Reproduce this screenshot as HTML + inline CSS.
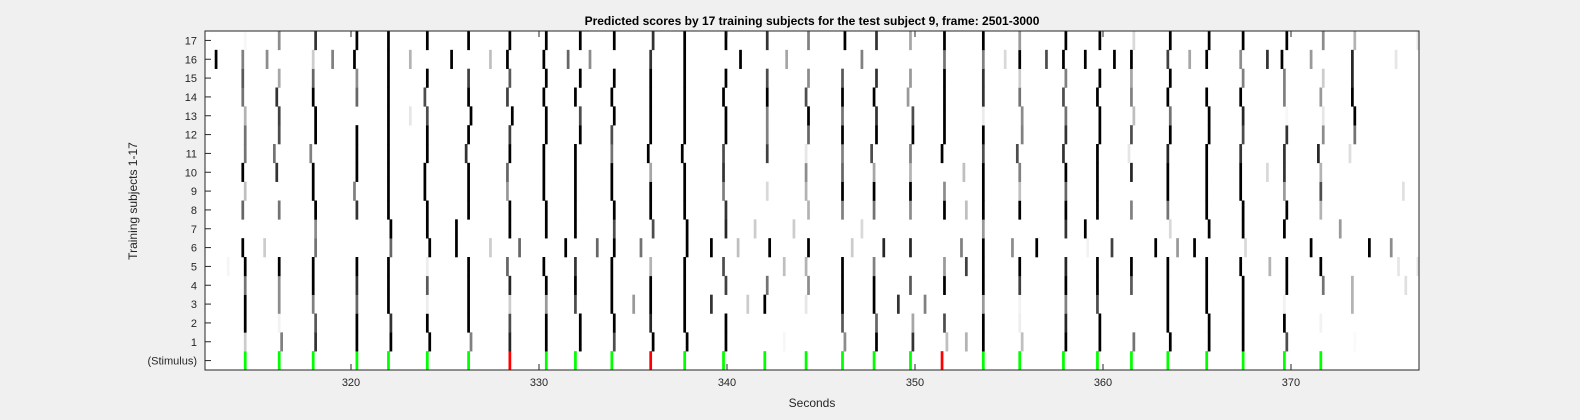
<!DOCTYPE html>
<html><head><meta charset="utf-8"><style>
html,body{margin:0;padding:0;background:#f0f0f0;}
svg{display:block;font-family:"Liberation Sans",sans-serif;}
</style></head><body>
<svg id="chart" width="1580" height="420"></svg>
<script>
// frames are indices 0..499 of frames 2501-3000
const frameStartSec = 312.234;
const frameSec = 0.12915;
const xTicks = [320, 330, 340, 350, 360, 370];
const rowLabels = ["(Stimulus)","1","2","3","4","5","6","7","8","9","10","11","12","13","14","15","16","17"];
const stimFrames = [16,30,44,62,75,91,108,125,140,152,167,183,197,213,230,247,262,275,290,303,320,335,353,367,381,396,412,427,444,459];
const stimRed = [125,183,303];
// each row: [frame, gray(0=black,1=white)]
const row1 = [[16,.8],[31,.5],[45,.2],[62,0],[76,0],[92,0],[109,.5],[125,.15],[140,0],[154,0],[168,.3],[184,0],[198,0],[214,0],[238,.97],[263,.55],[276,0],[291,.2],[305,.75],[313,.7],[320,0],[336,.75],[354,0],[368,0],[382,.45],[397,0],[413,0],[427,0],[445,.3],[473,.98]];
const row2 = [[16,0],[30,.95],[45,.35],[62,0],[76,.2],[91,0],[108,0],[125,.3],[140,0],[154,0],[168,0],[183,.15],[197,0],[214,0],[262,.35],[276,.4],[291,.65],[304,.3],[320,0],[335,.93],[354,.15],[368,0],[396,0],[413,0],[427,0],[444,0],[459,.95]];
const row3 = [[16,0],[30,.55],[44,.5],[62,.4],[75,0],[91,.93],[108,0],[125,.8],[140,.6],[152,.3],[167,0],[176,.6],[183,0],[197,0],[208,.2],[223,.8],[230,0],[247,.9],[262,0],[275,0],[285,.2],[296,.5],[320,.6],[335,.95],[354,.5],[367,.3],[396,0],[412,0],[427,0],[444,.95],[472,.7]];
const row4 = [[16,.45],[30,.55],[44,0],[62,.2],[75,0],[91,.35],[108,0],[125,.15],[140,0],[152,0],[167,0],[183,0],[197,0],[214,.25],[231,.45],[248,.55],[262,0],[275,0],[290,.35],[304,0],[320,0],[335,.25],[354,0],[367,0],[381,.35],[396,0],[412,0],[427,0],[445,0],[460,.45],[472,.7],[494,.88]];
const row5 = [[9,.96],[16,0],[30,0],[44,0],[62,0],[75,0],[91,.93],[108,0],[124,.4],[139,0],[152,.2],[167,0],[183,.7],[197,0],[213,.3],[238,.75],[247,.7],[262,0],[275,.5],[304,.6],[313,.25],[320,0],[335,0],[354,.15],[367,0],[381,0],[396,0],[412,0],[426,0],[438,.7],[445,0],[459,0],[491,.9],[499,.9]];
const row6 = [[15,0],[24,.8],[45,.45],[76,.4],[92,0],[103,0],[117,.8],[129,.4],[148,0],[161,.4],[168,0],[179,.45],[198,0],[208,0],[219,.75],[232,0],[248,0],[266,.8],[279,.15],[290,.15],[311,.5],[320,0],[332,.55],[342,0],[363,.95],[373,.25],[391,0],[400,.6],[407,0],[428,.85],[455,0],[479,0],[488,.55]];
const row7 = [[45,.55],[76,0],[91,0],[103,0],[125,0],[140,0],[152,0],[168,.3],[184,.3],[198,0],[214,.15],[226,.8],[242,.8],[270,.85],[320,.6],[354,.2],[362,0],[397,.85],[413,0],[427,0],[444,0],[467,.6]];
const row8 = [[15,.4],[30,.45],[45,0],[62,.2],[75,0],[91,0],[108,0],[125,0],[140,0],[152,0],[168,0],[183,0],[197,0],[214,.2],[248,.7],[262,.5],[275,.45],[290,.55],[304,0],[313,.75],[320,0],[335,0],[354,0],[367,0],[381,.5],[396,.45],[412,0],[427,0],[445,0],[459,.7]];
const row9 = [[16,.75],[44,0],[61,.5],[75,0],[90,0],[108,0],[124,.6],[139,0],[152,0],[167,0],[183,0],[197,0],[213,.5],[231,.85],[247,.7],[262,0],[275,0],[290,0],[304,.55],[320,0],[335,.75],[354,.4],[367,0],[396,0],[412,0],[426,0],[444,.6],[459,.3],[493,.88]];
const row10 = [[15,0],[29,.2],[44,0],[62,0],[75,0],[90,0],[108,0],[124,.4],[139,0],[152,0],[167,0],[183,.65],[197,0],[213,.2],[247,.55],[262,.4],[275,.65],[290,.7],[312,.75],[320,0],[335,.5],[354,0],[367,0],[381,.15],[396,0],[412,0],[426,0],[437,.85],[444,.2],[459,.7]];
const row11 = [[16,.45],[28,.45],[43,.5],[62,0],[75,0],[91,0],[107,.2],[125,0],[139,0],[152,0],[167,.45],[182,0],[196,0],[213,.3],[231,.25],[247,.9],[262,.5],[274,.3],[290,.5],[303,0],[320,.3],[334,.3],[353,.2],[367,0],[380,.9],[396,.15],[412,0],[426,.2],[444,.2],[458,.15],[471,.87]];
const row12 = [[16,.45],[30,.3],[45,0],[62,0],[75,0],[91,0],[108,0],[125,.25],[140,0],[154,0],[167,.3],[183,0],[197,0],[214,0],[231,.5],[248,.4],[262,0],[276,0],[291,0],[304,0],[320,0],[336,.5],[354,.2],[368,0],[381,.3],[397,0],[413,0],[427,.3],[445,.2],[460,.55],[473,.45]];
const row13 = [[16,.7],[30,.25],[45,0],[75,0],[84,.9],[91,.3],[109,0],[126,0],[140,0],[154,.3],[168,0],[183,0],[197,0],[214,0],[231,.5],[248,0],[262,.45],[276,.2],[291,.3],[304,0],[320,.92],[336,.55],[354,.45],[368,0],[382,.75],[397,.45],[413,0],[427,.15],[445,.97],[460,.9],[473,0]];
const row14 = [[15,.45],[29,.2],[44,0],[62,.4],[75,0],[90,.3],[108,0],[124,.25],[139,0],[152,0],[167,0],[183,0],[197,0],[213,0],[231,0],[247,.3],[262,0],[275,0],[289,.6],[304,0],[320,.2],[335,.45],[353,.3],[367,0],[381,.5],[396,0],[412,0],[426,0],[444,.5],[459,.6],[472,0]];
const row15 = [[15,.35],[30,.65],[44,.4],[62,.55],[75,0],[91,0],[108,.25],[125,.35],[140,0],[154,0],[168,0],[183,0],[197,0],[214,0],[231,.3],[248,.55],[262,.35],[276,.2],[290,.6],[304,0],[320,.2],[335,.8],[354,.5],[368,0],[381,.65],[397,0],[427,.5],[444,.5],[460,.8],[472,.15]];
const row16 = [[4,0],[15,.5],[25,.55],[44,.8],[52,.5],[61,0],[75,0],[84,.7],[101,0],[117,.75],[124,0],[139,0],[149,.4],[158,.55],[183,.2],[197,0],[220,0],[239,.65],[270,.5],[304,.45],[320,.5],[329,.85],[335,0],[346,.3],[353,0],[362,0],[374,0],[381,0],[396,.25],[405,.65],[412,0],[426,.55],[437,.2],[443,0],[455,.6],[472,.15],[490,.9]];
const row17 = [[16,.97],[30,.55],[45,.2],[62,0],[75,0],[91,0],[108,0],[125,0],[140,0],[154,0],[168,0],[184,.2],[197,0],[214,0],[231,.2],[248,.5],[263,0],[276,.2],[290,.65],[304,0],[320,0],[335,.6],[354,0],[368,0],[382,.85],[397,0],[413,0],[427,0],[445,0],[460,.55],[473,.7],[499,.9]];
const rows = [row1,row2,row3,row4,row5,row6,row7,row8,row9,row10,row11,row12,row13,row14,row15,row16,row17];

const NS = "http://www.w3.org/2000/svg";
const svg = document.getElementById("chart");
const L = 205, R = 1419, T = 31, B = 370;
const secMin = frameStartSec, secMax = frameStartSec + 500 * frameSec;
const xScale = s => L + (s - secMin) / (secMax - secMin) * (R - L);
const rowH = (B - T) / 18;
const rowTop = i => B - (i + 1) * rowH; // i=0 stimulus
const frameX = f => xScale(frameStartSec + f * frameSec);
const cellW = xScale(frameStartSec + frameSec) - xScale(frameStartSec);

function mk(tag, attrs) { const e = document.createElementNS(NS, tag); for (const k in attrs) e.setAttribute(k, attrs[k]); svg.appendChild(e); return e; }

const bg = mk("rect", {x: L, y: T, width: R - L, height: B - T, fill: "#fff"});



stimFrames.forEach(f => {
  const red = stimRed.includes(f);
  const r = mk("rect", {x: frameX(f), y: rowTop(0), width: cellW + 0.3, height: rowH, fill: red ? "#ff0000" : "#00ff00"});
  
  
});

rows.forEach((row, ri) => {
  row.forEach(([f, g]) => {
    const v = Math.round(255 * g);
    const r = mk("rect", {x: frameX(f), y: rowTop(ri + 1), width: cellW + 0.3, height: rowH + 0.3, fill: `rgb(${v},${v},${v})`});
    
    
  });
});

const box = mk("rect", {x: L, y: T, width: R - L, height: B - T, fill: "none", stroke: "#262626", "stroke-width": 1});



xTicks.forEach(t => {
  const x = xScale(t);
  const tk = mk("line", {x1: x, x2: x, y1: B, y2: B - 6, stroke: "#262626"});
  
  
  const tk2 = mk("line", {x1: x, x2: x, y1: T, y2: T + 6, stroke: "#262626"});
  
  
  const lb = mk("text", {x: x, y: B + 16, "text-anchor": "middle", "font-size": 11, fill: "#262626"});
  lb.textContent = t;
  
  
});

rowLabels.forEach((s, i) => {
  const y = rowTop(i) + rowH / 2;
  const tk = mk("line", {x1: L, x2: L + 6, y1: y, y2: y, stroke: "#262626"});
  
  
  const lb = mk("text", {x: L - 8, y: y + 4, "text-anchor": "end", "font-size": 11, fill: "#262626"});
  lb.textContent = s;
  
  
});

const title = mk("text", {x: 812, y: 25, "text-anchor": "middle", "font-size": 12, "font-weight": "bold", fill: "#000"});
title.textContent = "Predicted scores by 17 training subjects for the test subject 9, frame: 2501-3000";



const xt = mk("text", {x: 812, y: 407, "text-anchor": "middle", "font-size": 12, fill: "#262626"});
xt.textContent = "Seconds";



const yt = mk("text", {x: 0, y: 0, "text-anchor": "middle", "font-size": 12, fill: "#262626", transform: "translate(137,201) rotate(-90)"});
yt.textContent = "Training subjects 1-17";


</script>
</body></html>
